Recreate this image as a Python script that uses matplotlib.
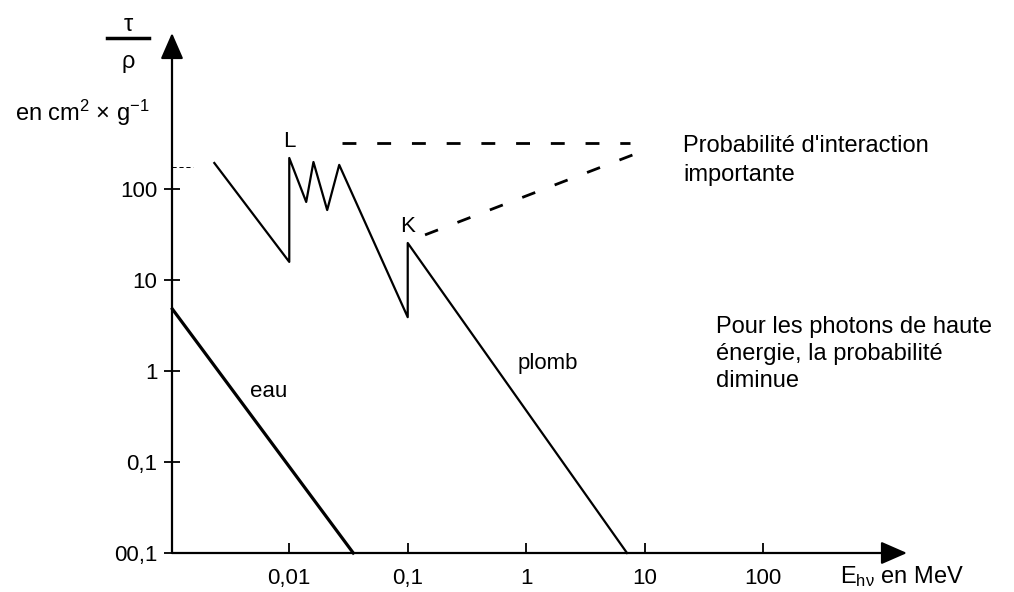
import matplotlib.pyplot as plt
from matplotlib.lines import Line2D
from matplotlib.patches import ArrowStyle

plt.rcParams['font.family'] = ['Liberation Sans', 'DejaVu Sans']
plt.rcParams['mathtext.fontset'] = 'custom'
plt.rcParams['mathtext.rm'] = 'Liberation Sans'
plt.rcParams['mathtext.it'] = 'Liberation Sans:italic'
plt.rcParams['mathtext.bf'] = 'Liberation Sans:bold'
plt.rcParams['lines.scale_dashes'] = False

# lead (plomb) photoelectric curve with L and K edges, in MeV and cm2/g
energy_plomb = [0.00233, 0.01, 0.01, 0.0139, 0.0160, 0.0209, 0.0264, 0.1, 0.1, 7.1]
tau_plomb = [193, 15.8, 219, 72, 198, 58.7, 184, 3.9, 25.5, 0.01]

# water (eau)
energy_eau = [0.00103, 0.0347]
tau_eau = [4.8, 0.01]

# dashed guide lines towards the "Probabilité d'interaction importante" note
guide_top_x = [0.028, 7.55]
guide_top_y = [320, 320]
guide_k_x = [0.14, 9.2]
guide_k_y = [31.3, 255]
mark_x = [0.00103, 0.00155]
mark_y = [175, 175]

x_ticks = [0.01, 0.1, 1, 10, 100]
x_labels = ['0,01', '0,1', '1', '10', '100']
y_ticks = [0.01, 0.1, 1, 10, 100]
y_labels = ['00,1', '0,1', '1', '10', '100']

W, H = 1014, 592
FS = 16
FS_NOTE = 17


def fx(px):
    return px / W


def fy(py):
    return 1 - py / H


fig = plt.figure(figsize=(W / 100, H / 100), dpi=100)
ax = fig.add_axes([fx(172), fy(553), fx(907) - fx(172), fy(33) - fy(553)])
ax.set_xscale('log')
ax.set_yscale('log')
ax.set_xlim(10 ** -2.99, 10 ** 3.215)
ax.set_ylim(10 ** -2, 10 ** 3.714)
for s in ax.spines.values():
    s.set_visible(False)

ax.plot(energy_plomb, tau_plomb, color='k', lw=1.6, clip_on=False)
ax.plot(energy_eau, tau_eau, color='k', lw=2.3, clip_on=False)
ax.plot(guide_top_x, guide_top_y, color='k', lw=2, dashes=(10, 15))
ax.plot(guide_k_x, guide_k_y, color='k', lw=2, dashes=(10, 15))
ax.plot(mark_x, mark_y, color='k', lw=0.7, dashes=(3, 2))

# axes drawn as arrows
head = ArrowStyle('-|>', head_length=0.8, head_width=0.35)
ax.annotate('', xy=(1, 0), xytext=(0, 0), xycoords='axes fraction',
            arrowprops=dict(arrowstyle=head, lw=1.6, color='k', mutation_scale=20,
                            shrinkA=0, shrinkB=0))
ax.annotate('', xy=(0, 1), xytext=(0, 0), xycoords='axes fraction',
            arrowprops=dict(arrowstyle=head, lw=1.6, color='k', mutation_scale=20,
                            shrinkA=0, shrinkB=0))

ax.minorticks_off()
ax.set_xticks(x_ticks, x_labels)
ax.set_yticks(y_ticks, y_labels)
ax.tick_params(axis='x', direction='in', length=7, width=1.3, pad=10.5, labelsize=FS)
ax.tick_params(axis='y', direction='inout', length=12, width=1.3, pad=4.5, labelsize=FS)

# curve labels
ax.text(0.0101, 330, 'L', fontsize=FS, ha='center', va='center')
ax.text(0.099, 39, 'K', fontsize=FS, ha='center', va='center')
ax.text(0.0047, 0.59, 'eau', fontsize=FS, ha='left', va='center')
ax.text(0.84, 1.22, 'plomb', fontsize=FS, ha='left', va='center')

# y axis title: tau / rho
fig.text(fx(128), fy(25), 'τ', fontsize=FS + 1, ha='center', va='center')
fig.add_artist(Line2D([fx(107), fx(149)], [fy(38), fy(38)], color='k', lw=2.5))
fig.text(fx(128), fy(62), 'ρ', fontsize=FS + 1, ha='center', va='center')
fig.text(fx(150), fy(121), r'en cm$^{2}$ × g$^{-1}$', fontsize=FS_NOTE, ha='right', va='baseline')

# x axis title
fig.text(fx(840), fy(583), r'E$_{\rm h\nu}$ en MeV', fontsize=FS_NOTE, ha='left', va='baseline')

# notes
fig.text(fx(683), fy(152), "Probabilité d'interaction", fontsize=FS_NOTE, va='baseline')
fig.text(fx(683), fy(181), 'importante', fontsize=FS_NOTE, va='baseline')
fig.text(fx(716), fy(333), 'Pour les photons de haute', fontsize=FS_NOTE, va='baseline')
fig.text(fx(716), fy(360), 'énergie, la probabilité', fontsize=FS_NOTE, va='baseline')
fig.text(fx(716), fy(387), 'diminue', fontsize=FS_NOTE, va='baseline')

fig.savefig('out.png', dpi=100)
